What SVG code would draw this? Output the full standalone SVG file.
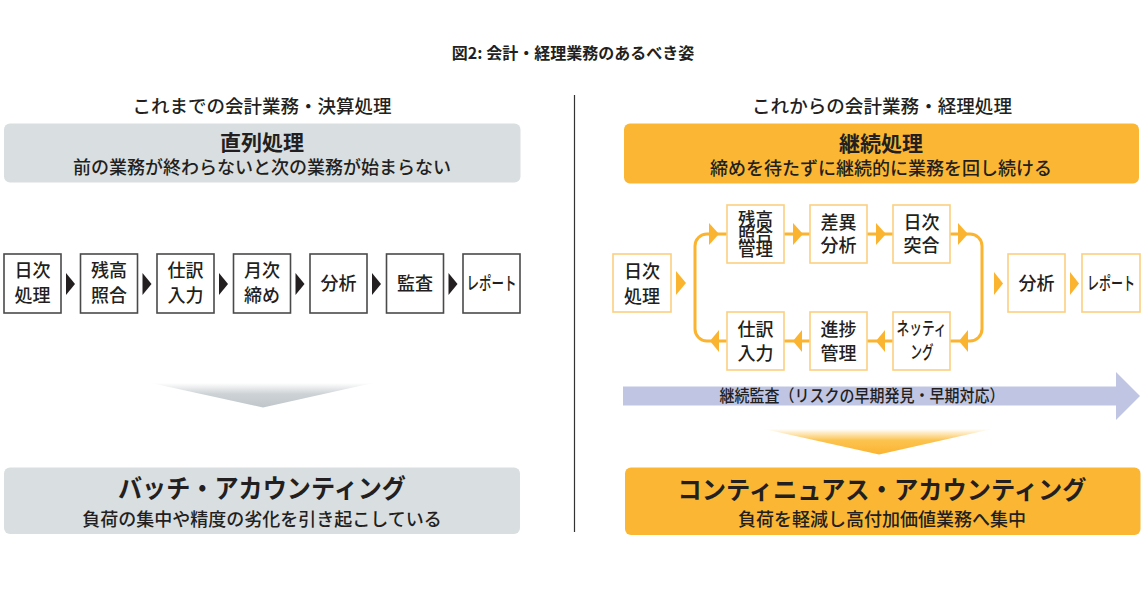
<svg xmlns="http://www.w3.org/2000/svg" width="1147" height="589" viewBox="0 0 1147 589">
<defs>
<style>
text{font-family:"Noto Sans CJK JP","Noto Sans CJK SC",sans-serif;fill:#231f20;}
.t{font-weight:700;}
.m{font-weight:500;}
.bx{font-size:18px;font-weight:500;text-anchor:middle;}
.lb{fill:#fff;stroke:#4a4a4a;stroke-width:1.6;}
.rb{fill:#fff;stroke:#fcd07f;stroke-width:1.6;}
.ltri{fill:#231f20;}
.otri{fill:#fbb430;}
.loop{fill:none;stroke:#fbb430;stroke-width:3;}
</style>
<linearGradient id="gg" x1="0" y1="0" x2="0" y2="1">
<stop offset="0" stop-color="#ffffff"/>
<stop offset="0.45" stop-color="#cdd2d6"/>
<stop offset="1" stop-color="#bfc6ca"/>
</linearGradient>
<linearGradient id="og" x1="0" y1="0" x2="0" y2="1">
<stop offset="0" stop-color="#ffffff"/>
<stop offset="0.45" stop-color="#fcc34f"/>
<stop offset="1" stop-color="#fbb430"/>
</linearGradient>
</defs>
<rect width="1147" height="589" fill="#ffffff"/>

<text x="573" y="59" class="t" font-size="16" text-anchor="middle">図2: 会計・経理業務のあるべき姿</text>
<line x1="574.5" y1="95" x2="574.5" y2="532" stroke="#333" stroke-width="1.2"/>

<!-- headers -->
<text x="262" y="113" class="m" font-size="18.5" text-anchor="middle" textLength="259" lengthAdjust="spacingAndGlyphs">これまでの会計業務・決算処理</text>
<text x="882" y="113" class="m" font-size="18.5" text-anchor="middle" textLength="260" lengthAdjust="spacingAndGlyphs">これからの会計業務・経理処理</text>

<!-- top panels -->
<g id="panel-serial">
<rect x="4" y="123.5" width="516.5" height="59" rx="6" fill="#d9dee1"/>
<text x="262" y="150" class="t" font-size="21" text-anchor="middle">直列処理</text>
<text x="262" y="174" class="m" font-size="18" text-anchor="middle">前の業務が終わらないと次の業務が始まらない</text>
</g>
<g id="panel-continuous">
<rect x="624" y="123.5" width="515" height="60" rx="6" fill="#fbb733"/>
<text x="881" y="151" class="t" font-size="21" text-anchor="middle">継続処理</text>
<text x="881" y="175" class="m" font-size="18" text-anchor="middle">締めを待たずに継続的に業務を回し続ける</text>
</g>

<!-- connectors -->
<g id="connectors">
<polygon class="ltri" points="66,273 66,295 75,284"/>
<polygon class="ltri" points="142.5,273 142.5,295 151.5,284"/>
<polygon class="ltri" points="219,273 219,295 228,284"/>
<polygon class="ltri" points="295.5,273 295.5,295 304.5,284"/>
<polygon class="ltri" points="372,273 372,295 381,284"/>
<polygon class="ltri" points="448.5,273 448.5,295 457.5,284"/>

<rect class="loop" x="695" y="234" width="287" height="107" rx="12"/>
<polygon class="otri" points="676,271 676,295 686,283"/>
<polygon class="otri" points="709,223 709,245 719,234"/>
<polygon class="otri" points="793,223 793,245 803,234"/>
<polygon class="otri" points="876,223 876,245 886,234"/>
<polygon class="otri" points="958,223 958,245 968,234"/>
<polygon class="otri" points="719,330 719,352 710,341"/>
<polygon class="otri" points="802,330 802,352 793,341"/>
<polygon class="otri" points="885,330 885,352 876,341"/>
<polygon class="otri" points="968,330 968,352 959,341"/>
<polygon class="otri" points="994,272 994,295 1003,283.5"/>
<polygon class="otri" points="1070,272 1070,295 1079,283.5"/>
</g>

<!-- left flow nodes -->
<g id="l-nichiji"><rect class="lb" x="4" y="254" width="57" height="59"/><text class="bx" x="32.5" y="277">日次</text><text class="bx" x="32.5" y="302">処理</text></g>
<g id="l-zandaka"><rect class="lb" x="80.5" y="254" width="57" height="59"/><text class="bx" x="109" y="277">残高</text><text class="bx" x="109" y="302">照合</text></g>
<g id="l-shiwake"><rect class="lb" x="157" y="254" width="57" height="59"/><text class="bx" x="185.5" y="277">仕訳</text><text class="bx" x="185.5" y="302">入力</text></g>
<g id="l-getsuji"><rect class="lb" x="233.5" y="254" width="57" height="59"/><text class="bx" x="262" y="277">月次</text><text class="bx" x="262" y="302">締め</text></g>
<g id="l-bunseki"><rect class="lb" x="310" y="254" width="57" height="59"/><text class="bx" x="338.5" y="290">分析</text></g>
<g id="l-kansa"><rect class="lb" x="386.5" y="254" width="57" height="59"/><text class="bx" x="415" y="290">監査</text></g>
<g id="l-report"><rect class="lb" x="463" y="254" width="57" height="59"/><text class="bx" x="491.5" y="290" textLength="50" lengthAdjust="spacingAndGlyphs">レポート</text></g>

<!-- right flow nodes -->
<g id="r-nichiji"><rect class="rb" x="613" y="254" width="58" height="58"/><text class="bx" x="642" y="277.5">日次</text><text class="bx" x="642" y="302.5">処理</text></g>
<g id="r-zandaka"><rect class="rb" x="727" y="205" width="57" height="58"/>
<text class="bx" font-size="14" x="755.5" y="225.5" textLength="35" lengthAdjust="spacingAndGlyphs">残高</text>
<text class="bx" font-size="14" x="755.5" y="240.5" textLength="35" lengthAdjust="spacingAndGlyphs">照合</text>
<text class="bx" font-size="14" x="755.5" y="255.5" textLength="35" lengthAdjust="spacingAndGlyphs">管理</text></g>
<g id="r-sai"><rect class="rb" x="810" y="205" width="57" height="58"/><text class="bx" font-size="17" x="838.5" y="228.5">差異</text><text class="bx" font-size="17" x="838.5" y="251.5">分析</text></g>
<g id="r-totsugo"><rect class="rb" x="893" y="205" width="57" height="58"/><text class="bx" font-size="17" x="921.5" y="228.5">日次</text><text class="bx" font-size="17" x="921.5" y="251.5">突合</text></g>
<g id="r-netting"><rect class="rb" x="893" y="312" width="57" height="58"/>
<text class="bx" font-size="16" x="921.5" y="335" textLength="50" lengthAdjust="spacingAndGlyphs">ネッティ</text>
<text class="bx" font-size="16" x="922" y="359" textLength="23" lengthAdjust="spacingAndGlyphs">ング</text></g>
<g id="r-shinchoku"><rect class="rb" x="810" y="312" width="57" height="58"/><text class="bx" x="838.5" y="335.5">進捗</text><text class="bx" x="838.5" y="359.5">管理</text></g>
<g id="r-shiwake"><rect class="rb" x="727" y="312" width="57" height="58"/><text class="bx" x="755.5" y="335.5">仕訳</text><text class="bx" x="755.5" y="359.5">入力</text></g>
<g id="r-bunseki"><rect class="rb" x="1008" y="254" width="57" height="58"/><text class="bx" x="1036.5" y="290">分析</text></g>
<g id="r-report"><rect class="rb" x="1082" y="254" width="58" height="58"/><text class="bx" x="1111" y="290" textLength="48" lengthAdjust="spacingAndGlyphs">レポート</text></g>

<!-- continuous audit band -->
<g id="audit-band">
<polygon points="623,386.5 1116,386.5 1116,372 1140,396 1116,420 1116,405.5 623,405.5" fill="#bfc5e3"/>
<text x="862" y="402" class="m" font-size="16.5" text-anchor="middle" textLength="285" lengthAdjust="spacingAndGlyphs">継続監査（リスクの早期発見・早期対応）</text>
</g>

<!-- down arrows -->
<polygon points="151,383 373,383 263,407.5" fill="url(#gg)"/>
<polygon points="764,429 992,429 879,454.5" fill="url(#og)"/>

<!-- bottom panels -->
<g id="panel-batch">
<rect x="4" y="467.5" width="516" height="66.5" rx="6" fill="#d9dee1"/>
<text x="262" y="498" class="t" font-size="26" text-anchor="middle" textLength="288" lengthAdjust="spacingAndGlyphs">バッチ・アカウンティング</text>
<text x="262" y="525.5" class="m" font-size="18" text-anchor="middle">負荷の集中や精度の劣化を引き起こしている</text>
</g>
<g id="panel-continuous-acc">
<rect x="625" y="467.5" width="515.5" height="67.5" rx="6" fill="#fbb733"/>
<text x="882" y="498.5" class="t" font-size="25" text-anchor="middle" textLength="409" lengthAdjust="spacingAndGlyphs">コンティニュアス・アカウンティング</text>
<text x="882" y="526" class="m" font-size="18" text-anchor="middle">負荷を軽減し高付加価値業務へ集中</text>
</g>
</svg>
